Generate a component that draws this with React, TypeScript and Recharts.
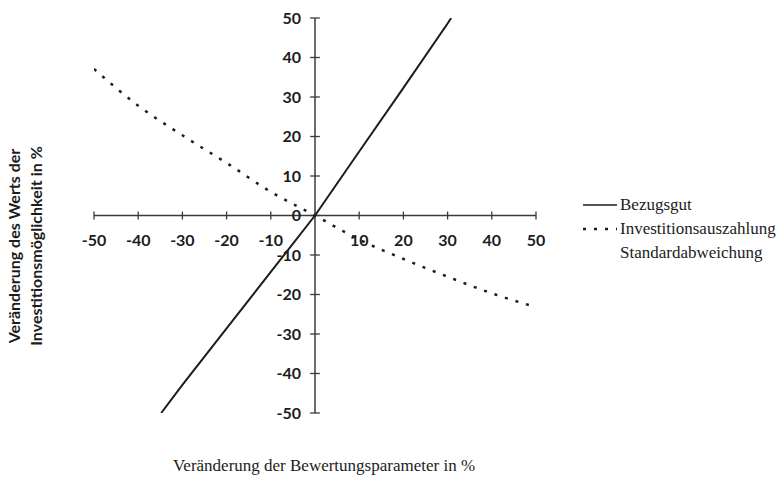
import React from "react";
import { LineChart, Line, XAxis, YAxis, ReferenceLine } from "recharts";

// values
const xTicks = [-50, -40, -30, -20, -10, 10, 20, 30, 40, 50];
const yTicks = [50, 40, 30, 20, 10, 0, -10, -20, -30, -40, -50];

const bezugX = [-34.8, -30, -20, -10, 0, 10, 20, 30, 30.8];
const bezugY = [-50, -42.9, -28.6, -14.3, 0, 16.2, 32.3, 48.6, 50];

const invX = [-50, -40, -30, -20, -10, 0, 10, 20, 30, 40, 50];
const invY = [37.1, 27.8, 20.3, 13.3, 6, 0, -6.1, -11, -15.5, -19.7, -23.2];

const legendNames = ["Bezugsgut", "Investitionsauszahlung", "Standardabweichung"];

const bezugData = bezugX.map((x, i) => ({ x, y: bezugY[i] }));
const invData = invX.map((x, i) => ({ x, y: invY[i] }));

const INK = "#1c1c1c";
const AXIS = "#3a3a3a";
const tickFont = { fontFamily: "Lato, 'Open Sans', sans-serif", fontSize: 16, fontWeight: 700, fill: INK };
const serif = "'Liberation Serif', 'Times New Roman', serif";

function LegendBox() {
  const dashes = [undefined, "3 8", undefined];
  return (
    <div style={{ position: "absolute", left: 583, top: 193, fontFamily: serif, fontSize: 17, color: INK }}>
      {legendNames.map((name, i) => (
        <div key={name} style={{ display: "flex", alignItems: "center", height: 24 }}>
          <svg width={34} height={24} style={{ marginRight: 3 }}>
            {i < 2 && (
              <line x1={0} y1={12} x2={34} y2={12} stroke={INK} strokeWidth={i === 1 ? 2.5 : 1.3} strokeDasharray={dashes[i]} />
            )}
          </svg>
          <span style={{ whiteSpace: "nowrap" }}>{name}</span>
        </div>
      ))}
    </div>
  );
}

export default function App() {
  return (
    <div style={{ position: "absolute", left: 0, top: 0, width: 783, height: 479, background: "#fff" }}>
      <LineChart width={783} height={479} margin={{ top: 18, left: 94, right: 247, bottom: 66 }}>
        <XAxis type="number" dataKey="x" domain={[-50, 50]} hide allowDataOverflow />
        <YAxis type="number" dataKey="y" domain={[-50, 50]} hide allowDataOverflow />

        <ReferenceLine x={0} stroke={AXIS} strokeWidth={1.5} />
        <ReferenceLine y={0} stroke={AXIS} strokeWidth={1.5} />

        {xTicks.map((v) => (
          <ReferenceLine
            key={"xt" + v}
            segment={[{ x: v, y: -1 }, { x: v, y: 1 }]}
            stroke={AXIS}
            strokeWidth={1.3}
            label={{ value: String(v), position: "bottom", offset: 15, ...tickFont }}
          />
        ))}
        {yTicks.map((v) => (
          <ReferenceLine
            key={"yt" + v}
            segment={[{ x: -1.1, y: v }, { x: 1.1, y: v }]}
            stroke={AXIS}
            strokeWidth={1.3}
            label={{ value: String(v), position: "left", offset: 9, ...tickFont }}
          />
        ))}

        <Line
          data={bezugData}
          dataKey="y"
          name="Bezugsgut"
          type="linear"
          stroke={INK}
          strokeWidth={2}
          dot={false}
          isAnimationActive={false}
        />
        <Line
          data={invData}
          dataKey="y"
          name="Investitionsauszahlung"
          type="monotone"
          stroke={INK}
          strokeWidth={2.5}
          strokeDasharray="3 8"
          dot={false}
          isAnimationActive={false}
        />
      </LineChart>

      <LegendBox />

      <div
        style={{
          position: "absolute",
          left: 25,
          top: 246,
          transform: "translate(-50%, -50%) rotate(-90deg)",
          whiteSpace: "nowrap",
          textAlign: "center",
          fontFamily: tickFont.fontFamily,
          fontWeight: 700,
          fontSize: 16,
          lineHeight: "22px",
          color: INK,
        }}
      >
        Veränderung des Werts der
        <br />
        Investitionsmöglichkeit in %
      </div>

      <div
        style={{
          position: "absolute",
          left: 324,
          top: 466,
          transform: "translate(-50%, -50%)",
          whiteSpace: "nowrap",
          fontFamily: serif,
          fontSize: 17,
          color: INK,
        }}
      >
        Veränderung der Bewertungsparameter in %
      </div>
    </div>
  );
}
